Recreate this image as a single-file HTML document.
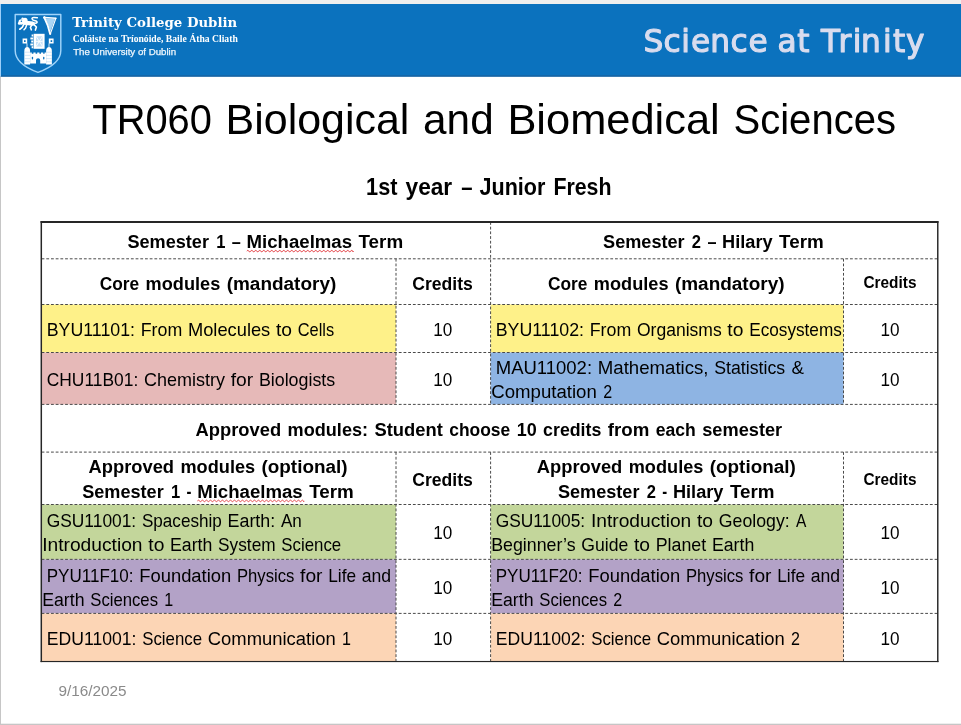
<!DOCTYPE html>
<html lang="en">
<head>
<meta charset="utf-8">
<title>TR060 Biological and Biomedical Sciences</title>
<style>
html,body{margin:0;padding:0;background:#fff;}
body{width:961px;height:725px;overflow:hidden;}
svg{display:block;will-change:transform;font-family:"Liberation Sans",sans-serif;}
text{white-space:pre;}
</style>
</head>
<body>
<svg width="961" height="725" viewBox="0 0 961 725">
<rect x="0" y="0" width="961" height="725" fill="#fff"/>
<rect x="0" y="0" width="961" height="4" fill="#f0efee"/>
<rect x="0" y="4" width="961" height="72.6" fill="#0b72be"/>
<rect x="0" y="75.4" width="961" height="1.2" fill="#1a5f9a"/>
<rect x="0" y="4" width="1" height="72.6" fill="#9ccffa"/>
<rect x="0" y="76.6" width="1" height="648.4" fill="#c6c6c6"/>
<rect x="0" y="723.7" width="961" height="1.3" fill="#c6c6c6"/>
<g id="crest">
<!-- shield outline -->
<path d="M15.2 14.4H60.8V50.5C60.8 60.5 50 68 38 72.4C26 68 15.2 60.5 15.2 50.5Z" fill="none" stroke="#a0d4fa" stroke-width="1.45" stroke-linejoin="round"/>
<g fill="#fff" stroke="none">
<!-- lion passant -->
<g stroke="#fff" fill="none" stroke-linecap="round" stroke-linejoin="round">
<path d="M24.4 22.6L32.6 23.6" stroke-width="4.4"/>
<path d="M33 22.6C37.4 24.2 38.6 21.4 35 20.8C31.2 20.1 31.2 17.5 34 17.6L37.4 17.7" stroke-width="1.5"/>
<path d="M24 24.2L22.2 27.4L19.8 29.2" stroke-width="1.7"/>
<path d="M26.6 25L25.6 28L24 29.8" stroke-width="1.5"/>
<path d="M31.8 25L30.4 27.4L31.4 29.9" stroke-width="1.5"/>
<path d="M34 24.6L36.4 27L35.4 30.1" stroke-width="1.6"/>
</g>
<circle cx="21.2" cy="22" r="2.7"/><circle cx="19.2" cy="23.4" r="1.3"/><circle cx="25" cy="20.4" r="2.6"/><circle cx="22.6" cy="18.6" r="1.2"/>
<!-- harp -->
<path d="M45.3 18.4L55 18.9L50.2 31.8C49.2 27 47.6 22.6 45.3 18.4Z" fill="#a9d5f5"/>
<g stroke="#fff" fill="none" stroke-linecap="round" stroke-linejoin="round">
<path d="M44.3 17.6C46.8 22.4 48.8 28 50 33.6" stroke-width="1.9"/>
<path d="M44.3 17.5L55.9 18.2" stroke-width="1.5"/>
<path d="M55.9 18.2L50.4 33.6" stroke-width="1.1"/>
</g>
<circle cx="44.4" cy="17.5" r="1.2"/><circle cx="50.2" cy="33.8" r="1.1"/>
<!-- book -->
<path d="M33.6 33.8H44.6V48.8H33.6Z"/>
<path d="M31.6 34.4H33.2V36.6H31.6ZM30.4 37.4H33.2V39.4H30.4ZM31.2 40.4H33.2V42.4H31.2ZM30.4 43.4H33.2V45.4H30.4ZM31.6 46.2H33.2V48.2H31.6Z"/>
<!-- flags -->
<path d="M22.6 38.6H27.2V43.6H22.6ZM26.6 43.6H27.4V47.2H26.6Z"/>
<path d="M48.8 38.6H53.6V43.6H48.8ZM48.6 43.6H49.4V47.2H48.6Z"/>
<!-- castle towers -->
<path d="M24.3 64.4V51C24.3 48.4 25.6 46.9 27.2 46.9C28.8 46.9 30.1 48.4 30.1 51V64.4Z"/>
<path d="M46.1 64.4V51C46.1 48.4 47.4 46.9 49 46.9C50.6 46.9 51.9 48.4 51.9 51V64.4Z"/>
<!-- wall with crenellations and gate -->
<path d="M30.1 63.6V52.6H31.8V53.8H33.4V52.6H35.6V53.8H37.2V52.6H39.4V53.8H41V52.6H43.2V53.8H44.6V52.6H46.1V63.6H40.2V60.6C40.2 59 39.2 58.2 38.1 58.2C37 58.2 36 59 36 60.6V63.6Z"/>
</g>
<g fill="#0b72be">
<!-- book pattern -->
<path d="M36 36.2H42.6V46.6H36Z" fill="#c4e0f7"/>
<path d="M36 36.2L42.6 46.6M42.6 36.2L36 46.6M36 41.4H42.6" stroke="#fff" stroke-width="0.9" fill="none"/>
<!-- flag dots -->
<rect x="24" y="40.2" width="1.6" height="1.8"/>
<rect x="50.6" y="40.2" width="1.6" height="1.8"/>
<!-- lion eye -->
<circle cx="21.4" cy="21.3" r="0.75"/>
<!-- castle windows -->
<rect x="31.8" y="56.8" width="1.3" height="2.6" rx="0.6"/>
<rect x="43.1" y="56.8" width="1.3" height="2.6" rx="0.6"/>
<!-- tower bands -->
<path d="M24.3 52.2H30.1M24.3 55.4H30.1M24.3 58.6H30.1M24.3 61.8H30.1M46.1 52.2H51.9M46.1 55.4H51.9M46.1 58.6H51.9M46.1 61.8H51.9" stroke="#9fcbef" stroke-width="0.45" fill="none"/>
</g>
</g>

<g font-family="'Liberation Serif', serif" font-weight="bold" fill="#fff">
<text x="72.2" y="26.8" font-family="'DejaVu Serif', 'Liberation Serif', serif" font-size="13" textLength="165" lengthAdjust="spacingAndGlyphs">Trinity College Dublin</text>
<text x="72.8" y="42.0" font-size="9.8" textLength="165" lengthAdjust="spacingAndGlyphs">Coláiste na Tríonóide, Baile Átha Cliath</text>
</g>
<text x="73.2" y="54.8" font-size="8.7" fill="#eef6fd" stroke="#eef6fd" stroke-width="0.25" textLength="103" lengthAdjust="spacingAndGlyphs">The University of Dublin</text>
<g font-family="'DejaVu Sans', 'Liberation Sans', sans-serif" fill="#d9dcee" stroke="#d9dcee" stroke-width="1.15" stroke-linejoin="round" font-size="31.2">
<text y="51.9" x="643.6 663.4 681.3 690.9 710.2 730.5 748.6 768 777.4 797.2 810 820.9 838.4 852.8 861.0 883.1 892.9 905.9">Science at Trinity</text>
</g>
<text y="133.70" font-size="43.30"><tspan x="92.30" textLength="119.56" lengthAdjust="spacingAndGlyphs">TR060</tspan> <tspan x="225.59" textLength="183.80" lengthAdjust="spacingAndGlyphs">Biological</tspan> <tspan x="423.12" textLength="70.55" lengthAdjust="spacingAndGlyphs">and</tspan> <tspan x="507.40" textLength="212.32" lengthAdjust="spacingAndGlyphs">Biomedical</tspan> <tspan x="733.46" textLength="162.54" lengthAdjust="spacingAndGlyphs">Sciences</tspan></text>
<text y="195.20" font-size="23.60" font-weight="bold"><tspan x="366.08" textLength="31.41" lengthAdjust="spacingAndGlyphs">1st</tspan> <tspan x="405.52" textLength="46.70" lengthAdjust="spacingAndGlyphs">year</tspan> <tspan x="461.25" textLength="11.28" lengthAdjust="spacingAndGlyphs">–</tspan> <tspan x="479.56" textLength="65.83" lengthAdjust="spacingAndGlyphs">Junior</tspan> <tspan x="553.41" textLength="58.10" lengthAdjust="spacingAndGlyphs">Fresh</tspan></text>
<rect x="41.60" y="304.50" width="354.40" height="48.00" fill="#fef189"/>
<rect x="490.60" y="304.50" width="352.90" height="48.00" fill="#fef189"/>
<rect x="41.60" y="352.50" width="354.40" height="51.90" fill="#e6b9b8"/>
<rect x="490.60" y="352.50" width="352.90" height="51.90" fill="#8eb4e3"/>
<rect x="41.60" y="504.50" width="354.40" height="54.85" fill="#c3d69b"/>
<rect x="490.60" y="504.50" width="352.90" height="54.85" fill="#c3d69b"/>
<rect x="41.60" y="559.35" width="354.40" height="54.05" fill="#b3a2c7"/>
<rect x="490.60" y="559.35" width="352.90" height="54.05" fill="#b3a2c7"/>
<rect x="41.60" y="613.40" width="354.40" height="48.10" fill="#fcd5b5"/>
<rect x="490.60" y="613.40" width="352.90" height="48.10" fill="#fcd5b5"/>
<g stroke="#4a4a4a" stroke-width="1" stroke-dasharray="2.8 1.9" fill="none">
<path d="M41.6 258.8H937.8"/>
<path d="M41.6 304.5H937.8"/>
<path d="M41.6 352.5H937.8"/>
<path d="M41.6 404.4H937.8"/>
<path d="M41.6 452.1H937.8"/>
<path d="M41.6 504.5H937.8"/>
<path d="M41.6 559.35H937.8"/>
<path d="M41.6 613.4H937.8"/>
<path d="M490.6 222.0V404.4"/>
<path d="M490.6 452.1V661.5"/>
<path d="M396.0 258.8V404.4"/>
<path d="M396.0 452.1V661.5"/>
<path d="M843.5 258.8V404.4"/>
<path d="M843.5 452.1V661.5"/>
</g>
<g fill="#262626">
<rect x="40.55" y="221.0" width="1.5" height="441.1"/>
<rect x="40.55" y="221.0" width="897.95" height="2.0" rx="0.6"/>
<rect x="937.05" y="221.0" width="1.45" height="441.1"/>
<rect x="40.55" y="660.95" width="897.95" height="1.15"/>
</g>
<text y="248.00" font-size="18.88" font-weight="bold"><tspan x="127.47" textLength="81.52" lengthAdjust="spacingAndGlyphs">Semester</tspan> <tspan x="216.21" textLength="9.21" lengthAdjust="spacingAndGlyphs">1</tspan> <tspan x="231.85" textLength="9.02" lengthAdjust="spacingAndGlyphs">–</tspan> <tspan x="246.50" textLength="105.59" lengthAdjust="spacingAndGlyphs">Michaelmas</tspan> <tspan x="358.50" textLength="44.63" lengthAdjust="spacingAndGlyphs">Term</tspan></text>
<path d="M246.80 251.10 Q247.80 249.60 248.80 251.10 Q249.80 252.60 250.80 251.10 Q251.80 249.60 252.80 251.10 Q253.80 252.60 254.80 251.10 Q255.80 249.60 256.80 251.10 Q257.80 252.60 258.80 251.10 Q259.80 249.60 260.80 251.10 Q261.80 252.60 262.80 251.10 Q263.80 249.60 264.80 251.10 Q265.80 252.60 266.80 251.10 Q267.80 249.60 268.80 251.10 Q269.80 252.60 270.80 251.10 Q271.80 249.60 272.80 251.10 Q273.80 252.60 274.80 251.10 Q275.80 249.60 276.80 251.10 Q277.80 252.60 278.80 251.10 Q279.80 249.60 280.80 251.10 Q281.80 252.60 282.80 251.10 Q283.80 249.60 284.80 251.10 Q285.80 252.60 286.80 251.10 Q287.80 249.60 288.80 251.10 Q289.80 252.60 290.80 251.10 Q291.80 249.60 292.80 251.10 Q293.80 252.60 294.80 251.10 Q295.80 249.60 296.80 251.10 Q297.80 252.60 298.80 251.10 Q299.80 249.60 300.80 251.10 Q301.80 252.60 302.80 251.10 Q303.80 249.60 304.80 251.10 Q305.80 252.60 306.80 251.10 Q307.80 249.60 308.80 251.10 Q309.80 252.60 310.80 251.10 Q311.80 249.60 312.80 251.10 Q313.80 252.60 314.80 251.10 Q315.80 249.60 316.80 251.10 Q317.80 252.60 318.80 251.10 Q319.80 249.60 320.80 251.10 Q321.80 252.60 322.80 251.10 Q323.80 249.60 324.80 251.10 Q325.80 252.60 326.80 251.10 Q327.80 249.60 328.80 251.10 Q329.80 252.60 330.80 251.10 Q331.80 249.60 332.80 251.10 Q333.80 252.60 334.80 251.10 Q335.80 249.60 336.80 251.10 Q337.80 252.60 338.80 251.10 Q339.80 249.60 340.80 251.10 Q341.80 252.60 342.80 251.10 Q343.80 249.60 344.80 251.10 Q345.80 252.60 346.80 251.10 Q347.80 249.60 348.80 251.10 Q349.80 252.60 350.80 251.10 Q351.80 249.60 352.80 251.10 Q353.09 252.60 353.38 251.10" fill="none" stroke="#e23b3f" stroke-width="1.0"/>
<text y="248.00" font-size="18.88" font-weight="bold"><tspan x="603.09" textLength="81.52" lengthAdjust="spacingAndGlyphs">Semester</tspan> <tspan x="691.83" textLength="9.21" lengthAdjust="spacingAndGlyphs">2</tspan> <tspan x="707.47" textLength="9.02" lengthAdjust="spacingAndGlyphs">–</tspan> <tspan x="722.12" textLength="50.55" lengthAdjust="spacingAndGlyphs">Hilary</tspan> <tspan x="779.08" textLength="44.63" lengthAdjust="spacingAndGlyphs">Term</tspan></text>
<text y="289.90" font-size="18.88" font-weight="bold"><tspan x="99.73" textLength="39.46" lengthAdjust="spacingAndGlyphs">Core</tspan> <tspan x="145.62" textLength="74.62" lengthAdjust="spacingAndGlyphs">modules</tspan> <tspan x="226.66" textLength="109.61" lengthAdjust="spacingAndGlyphs">(mandatory)</tspan></text>
<text y="289.80" font-size="18.88" font-weight="bold"><tspan x="412.19" textLength="60.62" lengthAdjust="spacingAndGlyphs">Credits</tspan></text>
<text y="289.90" font-size="18.88" font-weight="bold"><tspan x="547.98" textLength="39.46" lengthAdjust="spacingAndGlyphs">Core</tspan> <tspan x="593.87" textLength="74.62" lengthAdjust="spacingAndGlyphs">modules</tspan> <tspan x="674.91" textLength="109.61" lengthAdjust="spacingAndGlyphs">(mandatory)</tspan></text>
<text y="287.60" font-size="16.52" font-weight="bold"><tspan x="863.43" textLength="53.04" lengthAdjust="spacingAndGlyphs">Credits</tspan></text>
<text y="336.00" font-size="17.84"><tspan x="46.72" textLength="88.29" lengthAdjust="spacingAndGlyphs">BYU11101:</tspan> <tspan x="140.74" textLength="41.49" lengthAdjust="spacingAndGlyphs">From</tspan> <tspan x="187.94" textLength="82.32" lengthAdjust="spacingAndGlyphs">Molecules</tspan> <tspan x="275.98" textLength="16.05" lengthAdjust="spacingAndGlyphs">to</tspan> <tspan x="297.75" textLength="36.42" lengthAdjust="spacingAndGlyphs">Cells</tspan></text>
<text y="336.00" font-size="17.84"><tspan x="433.16" textLength="19.07" lengthAdjust="spacingAndGlyphs">10</tspan></text>
<text y="336.00" font-size="17.84"><tspan x="495.72" textLength="88.29" lengthAdjust="spacingAndGlyphs">BYU11102:</tspan> <tspan x="589.74" textLength="41.49" lengthAdjust="spacingAndGlyphs">From</tspan> <tspan x="636.94" textLength="84.73" lengthAdjust="spacingAndGlyphs">Organisms</tspan> <tspan x="727.39" textLength="16.05" lengthAdjust="spacingAndGlyphs">to</tspan> <tspan x="749.16" textLength="92.72" lengthAdjust="spacingAndGlyphs">Ecosystems</tspan></text>
<text y="336.00" font-size="17.84"><tspan x="880.51" textLength="19.07" lengthAdjust="spacingAndGlyphs">10</tspan></text>
<text y="386.20" font-size="17.84"><tspan x="46.72" textLength="91.53" lengthAdjust="spacingAndGlyphs">CHU11B01:</tspan> <tspan x="143.98" textLength="81.04" lengthAdjust="spacingAndGlyphs">Chemistry</tspan> <tspan x="230.74" textLength="22.42" lengthAdjust="spacingAndGlyphs">for</tspan> <tspan x="258.88" textLength="76.30" lengthAdjust="spacingAndGlyphs">Biologists</tspan></text>
<text y="386.20" font-size="17.84"><tspan x="433.16" textLength="19.07" lengthAdjust="spacingAndGlyphs">10</tspan></text>
<text y="373.60" font-size="17.84"><tspan x="495.72" textLength="96.34" lengthAdjust="spacingAndGlyphs">MAU11002:</tspan> <tspan x="597.78" textLength="110.75" lengthAdjust="spacingAndGlyphs">Mathematics,</tspan> <tspan x="714.26" textLength="70.95" lengthAdjust="spacingAndGlyphs">Statistics</tspan> <tspan x="791.53" textLength="12.44" lengthAdjust="spacingAndGlyphs">&amp;</tspan></text>
<text y="397.60" font-size="17.84"><tspan x="491.20" textLength="105.63" lengthAdjust="spacingAndGlyphs">Computation</tspan> <tspan x="603.15" textLength="8.94" lengthAdjust="spacingAndGlyphs">2</tspan></text>
<text y="386.20" font-size="17.84"><tspan x="880.51" textLength="19.07" lengthAdjust="spacingAndGlyphs">10</tspan></text>
<text y="435.60" font-size="18.88" font-weight="bold"><tspan x="195.62" textLength="85.55" lengthAdjust="spacingAndGlyphs">Approved</tspan> <tspan x="287.60" textLength="80.48" lengthAdjust="spacingAndGlyphs">modules:</tspan> <tspan x="374.50" textLength="68.38" lengthAdjust="spacingAndGlyphs">Student</tspan> <tspan x="449.30" textLength="60.94" lengthAdjust="spacingAndGlyphs">choose</tspan> <tspan x="516.67" textLength="20.02" lengthAdjust="spacingAndGlyphs">10</tspan> <tspan x="543.12" textLength="58.24" lengthAdjust="spacingAndGlyphs">credits</tspan> <tspan x="607.78" textLength="41.55" lengthAdjust="spacingAndGlyphs">from</tspan> <tspan x="655.75" textLength="40.05" lengthAdjust="spacingAndGlyphs">each</tspan> <tspan x="702.22" textLength="79.96" lengthAdjust="spacingAndGlyphs">semester</tspan></text>
<text y="472.60" font-size="18.88" font-weight="bold"><tspan x="88.51" textLength="85.55" lengthAdjust="spacingAndGlyphs">Approved</tspan> <tspan x="180.49" textLength="74.62" lengthAdjust="spacingAndGlyphs">modules</tspan> <tspan x="261.53" textLength="85.96" lengthAdjust="spacingAndGlyphs">(optional)</tspan></text>
<text y="497.70" font-size="18.88" font-weight="bold"><tspan x="82.21" textLength="81.52" lengthAdjust="spacingAndGlyphs">Semester</tspan> <tspan x="170.96" textLength="9.21" lengthAdjust="spacingAndGlyphs">1</tspan> <tspan x="186.60" textLength="4.93" lengthAdjust="spacingAndGlyphs">-</tspan> <tspan x="197.15" textLength="105.59" lengthAdjust="spacingAndGlyphs">Michaelmas</tspan> <tspan x="309.16" textLength="44.63" lengthAdjust="spacingAndGlyphs">Term</tspan></text>
<path d="M197.45 500.90 Q198.45 499.40 199.45 500.90 Q200.45 502.40 201.45 500.90 Q202.45 499.40 203.45 500.90 Q204.45 502.40 205.45 500.90 Q206.45 499.40 207.45 500.90 Q208.45 502.40 209.45 500.90 Q210.45 499.40 211.45 500.90 Q212.45 502.40 213.45 500.90 Q214.45 499.40 215.45 500.90 Q216.45 502.40 217.45 500.90 Q218.45 499.40 219.45 500.90 Q220.45 502.40 221.45 500.90 Q222.45 499.40 223.45 500.90 Q224.45 502.40 225.45 500.90 Q226.45 499.40 227.45 500.90 Q228.45 502.40 229.45 500.90 Q230.45 499.40 231.45 500.90 Q232.45 502.40 233.45 500.90 Q234.45 499.40 235.45 500.90 Q236.45 502.40 237.45 500.90 Q238.45 499.40 239.45 500.90 Q240.45 502.40 241.45 500.90 Q242.45 499.40 243.45 500.90 Q244.45 502.40 245.45 500.90 Q246.45 499.40 247.45 500.90 Q248.45 502.40 249.45 500.90 Q250.45 499.40 251.45 500.90 Q252.45 502.40 253.45 500.90 Q254.45 499.40 255.45 500.90 Q256.45 502.40 257.45 500.90 Q258.45 499.40 259.45 500.90 Q260.45 502.40 261.45 500.90 Q262.45 499.40 263.45 500.90 Q264.45 502.40 265.45 500.90 Q266.45 499.40 267.45 500.90 Q268.45 502.40 269.45 500.90 Q270.45 499.40 271.45 500.90 Q272.45 502.40 273.45 500.90 Q274.45 499.40 275.45 500.90 Q276.45 502.40 277.45 500.90 Q278.45 499.40 279.45 500.90 Q280.45 502.40 281.45 500.90 Q282.45 499.40 283.45 500.90 Q284.45 502.40 285.45 500.90 Q286.45 499.40 287.45 500.90 Q288.45 502.40 289.45 500.90 Q290.45 499.40 291.45 500.90 Q292.45 502.40 293.45 500.90 Q294.45 499.40 295.45 500.90 Q296.45 502.40 297.45 500.90 Q298.45 499.40 299.45 500.90 Q300.45 502.40 301.45 500.90 Q302.45 499.40 303.45 500.90 Q303.74 502.40 304.04 500.90" fill="none" stroke="#e23b3f" stroke-width="1.0"/>
<text y="485.60" font-size="18.88" font-weight="bold"><tspan x="412.19" textLength="60.62" lengthAdjust="spacingAndGlyphs">Credits</tspan></text>
<text y="472.60" font-size="18.88" font-weight="bold"><tspan x="536.76" textLength="85.55" lengthAdjust="spacingAndGlyphs">Approved</tspan> <tspan x="628.74" textLength="74.62" lengthAdjust="spacingAndGlyphs">modules</tspan> <tspan x="709.78" textLength="85.96" lengthAdjust="spacingAndGlyphs">(optional)</tspan></text>
<text y="497.70" font-size="18.88" font-weight="bold"><tspan x="557.98" textLength="81.52" lengthAdjust="spacingAndGlyphs">Semester</tspan> <tspan x="646.73" textLength="9.21" lengthAdjust="spacingAndGlyphs">2</tspan> <tspan x="662.37" textLength="4.93" lengthAdjust="spacingAndGlyphs">-</tspan> <tspan x="672.92" textLength="50.55" lengthAdjust="spacingAndGlyphs">Hilary</tspan> <tspan x="729.89" textLength="44.63" lengthAdjust="spacingAndGlyphs">Term</tspan></text>
<text y="484.60" font-size="16.52" font-weight="bold"><tspan x="863.43" textLength="53.04" lengthAdjust="spacingAndGlyphs">Credits</tspan></text>
<text y="527.00" font-size="17.84"><tspan x="46.72" textLength="89.47" lengthAdjust="spacingAndGlyphs">GSU11001:</tspan> <tspan x="141.92" textLength="79.91" lengthAdjust="spacingAndGlyphs">Spaceship</tspan> <tspan x="227.55" textLength="47.68" lengthAdjust="spacingAndGlyphs">Earth:</tspan> <tspan x="280.95" textLength="20.88" lengthAdjust="spacingAndGlyphs">An</tspan></text>
<text y="551.00" font-size="17.84"><tspan x="42.20" textLength="100.38" lengthAdjust="spacingAndGlyphs">Introduction</tspan> <tspan x="148.30" textLength="16.05" lengthAdjust="spacingAndGlyphs">to</tspan> <tspan x="170.07" textLength="42.33" lengthAdjust="spacingAndGlyphs">Earth</tspan> <tspan x="218.12" textLength="57.49" lengthAdjust="spacingAndGlyphs">System</tspan> <tspan x="281.33" textLength="59.90" lengthAdjust="spacingAndGlyphs">Science</tspan></text>
<text y="538.80" font-size="17.84"><tspan x="433.16" textLength="19.07" lengthAdjust="spacingAndGlyphs">10</tspan></text>
<text y="527.00" font-size="17.84"><tspan x="495.72" textLength="89.47" lengthAdjust="spacingAndGlyphs">GSU11005:</tspan> <tspan x="590.92" textLength="100.38" lengthAdjust="spacingAndGlyphs">Introduction</tspan> <tspan x="697.02" textLength="16.05" lengthAdjust="spacingAndGlyphs">to</tspan> <tspan x="718.79" textLength="70.87" lengthAdjust="spacingAndGlyphs">Geology:</tspan> <tspan x="795.98" textLength="10.37" lengthAdjust="spacingAndGlyphs">A</tspan></text>
<text y="551.00" font-size="17.84"><tspan x="491.20" textLength="84.38" lengthAdjust="spacingAndGlyphs">Beginner’s</tspan> <tspan x="581.30" textLength="46.97" lengthAdjust="spacingAndGlyphs">Guide</tspan> <tspan x="633.99" textLength="16.05" lengthAdjust="spacingAndGlyphs">to</tspan> <tspan x="655.76" textLength="50.46" lengthAdjust="spacingAndGlyphs">Planet</tspan> <tspan x="711.94" textLength="42.33" lengthAdjust="spacingAndGlyphs">Earth</tspan></text>
<text y="538.80" font-size="17.84"><tspan x="880.51" textLength="19.07" lengthAdjust="spacingAndGlyphs">10</tspan></text>
<text y="581.80" font-size="17.84"><tspan x="46.72" textLength="86.80" lengthAdjust="spacingAndGlyphs">PYU11F10:</tspan> <tspan x="139.24" textLength="91.98" lengthAdjust="spacingAndGlyphs">Foundation</tspan> <tspan x="236.95" textLength="57.38" lengthAdjust="spacingAndGlyphs">Physics</tspan> <tspan x="300.05" textLength="22.42" lengthAdjust="spacingAndGlyphs">for</tspan> <tspan x="328.20" textLength="27.85" lengthAdjust="spacingAndGlyphs">Life</tspan> <tspan x="361.77" textLength="29.40" lengthAdjust="spacingAndGlyphs">and</tspan></text>
<text y="605.80" font-size="17.84"><tspan x="42.20" textLength="42.33" lengthAdjust="spacingAndGlyphs">Earth</tspan> <tspan x="90.25" textLength="67.73" lengthAdjust="spacingAndGlyphs">Sciences</tspan> <tspan x="164.29" textLength="8.94" lengthAdjust="spacingAndGlyphs">1</tspan></text>
<text y="593.80" font-size="17.84"><tspan x="433.16" textLength="19.07" lengthAdjust="spacingAndGlyphs">10</tspan></text>
<text y="581.80" font-size="17.84"><tspan x="495.72" textLength="86.80" lengthAdjust="spacingAndGlyphs">PYU11F20:</tspan> <tspan x="588.24" textLength="91.98" lengthAdjust="spacingAndGlyphs">Foundation</tspan> <tspan x="685.95" textLength="57.38" lengthAdjust="spacingAndGlyphs">Physics</tspan> <tspan x="749.05" textLength="22.42" lengthAdjust="spacingAndGlyphs">for</tspan> <tspan x="777.20" textLength="27.85" lengthAdjust="spacingAndGlyphs">Life</tspan> <tspan x="810.77" textLength="29.40" lengthAdjust="spacingAndGlyphs">and</tspan></text>
<text y="605.80" font-size="17.84"><tspan x="491.20" textLength="42.33" lengthAdjust="spacingAndGlyphs">Earth</tspan> <tspan x="539.25" textLength="67.73" lengthAdjust="spacingAndGlyphs">Sciences</tspan> <tspan x="613.29" textLength="8.94" lengthAdjust="spacingAndGlyphs">2</tspan></text>
<text y="593.80" font-size="17.84"><tspan x="880.51" textLength="19.07" lengthAdjust="spacingAndGlyphs">10</tspan></text>
<text y="644.60" font-size="17.84"><tspan x="46.72" textLength="89.74" lengthAdjust="spacingAndGlyphs">EDU11001:</tspan> <tspan x="142.18" textLength="59.90" lengthAdjust="spacingAndGlyphs">Science</tspan> <tspan x="207.81" textLength="127.95" lengthAdjust="spacingAndGlyphs">Communication</tspan> <tspan x="342.08" textLength="8.94" lengthAdjust="spacingAndGlyphs">1</tspan></text>
<text y="644.60" font-size="17.84"><tspan x="433.16" textLength="19.07" lengthAdjust="spacingAndGlyphs">10</tspan></text>
<text y="644.60" font-size="17.84"><tspan x="495.72" textLength="89.74" lengthAdjust="spacingAndGlyphs">EDU11002:</tspan> <tspan x="591.18" textLength="59.90" lengthAdjust="spacingAndGlyphs">Science</tspan> <tspan x="656.81" textLength="127.95" lengthAdjust="spacingAndGlyphs">Communication</tspan> <tspan x="791.08" textLength="8.94" lengthAdjust="spacingAndGlyphs">2</tspan></text>
<text y="644.60" font-size="17.84"><tspan x="880.51" textLength="19.07" lengthAdjust="spacingAndGlyphs">10</tspan></text>
<text y="695.60" font-size="14.27" fill="#8a8a8a"><tspan x="58.40" textLength="68.17" lengthAdjust="spacingAndGlyphs">9/16/2025</tspan></text>
</svg>
</body>
</html>
